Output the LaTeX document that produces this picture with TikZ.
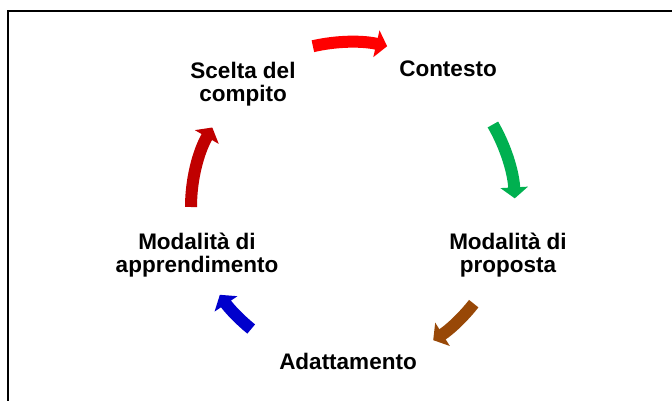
\documentclass[tikz,border=0pt]{standalone}
\usepackage{fontspec}
\setmainfont{Liberation Sans}
\usepackage{tikz}
\usetikzlibrary{arrows.meta,positioning,calc}
\definecolor{cycRed}{HTML}{FF0000}
\definecolor{cycGreen}{HTML}{00B050}
\definecolor{cycBrown}{HTML}{984807}
\definecolor{cycBlue}{HTML}{0000CC}
\definecolor{cycDark}{HTML}{C00000}
\begin{document}
\begin{tikzpicture}[x=1pt, y=1pt,
  font=\fontsize{22.5}{23}\selectfont\bfseries,
  lbl/.style={inner sep=0pt, align=center},
  arr/.style={line width=12pt, -{Triangle[length=11pt, width=27pt]}}]
\useasboundingbox (0,0) rectangle (672,400);
\draw[line width=2pt] (7.5,389.3) rectangle (720,-50);
\coordinate (ctr) at (350,193);
% labels
\node[lbl] (scelta) at (243,316) {Scelta del\\compito};
\node[lbl] (cont) at (448,331.5) {Contesto};
\node[lbl] (prop) at (508,145) {Modalità di\\proposta};
\node[lbl] (adat) at (348,39) {Adattamento};
\node[lbl] (appr) at (197,145) {Modalità di\\apprendimento};
% arrows
\draw[arr, cycRed] ($(ctr)+(103:165)$) arc[start angle=103, end angle=77, radius=165];
\draw[arr, cycGreen] ($(ctr)+(30:165)$) arc[start angle=30, end angle=3, radius=165];
\draw[arr, cycBrown] ($(ctr)+(-38:157)$) arc[start angle=-38, end angle=-58, radius=157];
\draw[arr, cycBlue] ($(ctr)+(-129:157)$) arc[start angle=-129, end angle=-146, radius=157];
\draw[arr, cycDark] ($(ctr)+(180:159)$) arc[start angle=180, end angle=150, radius=159];
\end{tikzpicture}
\end{document}
